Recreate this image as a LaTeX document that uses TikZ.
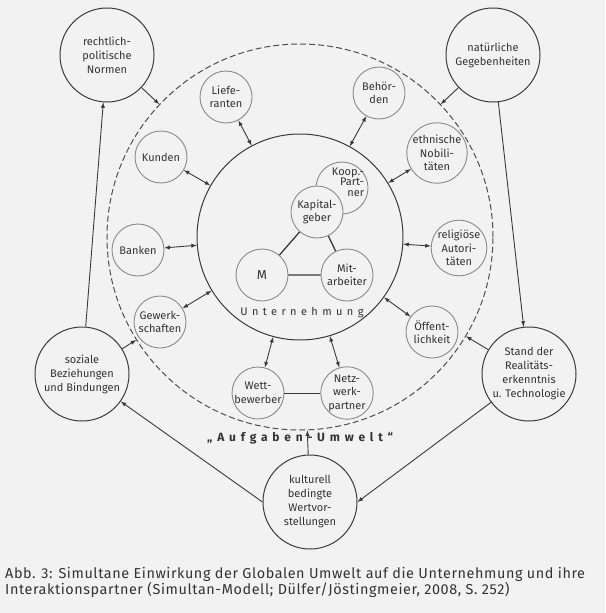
\documentclass[tikz,border=0pt]{standalone}
\usepackage{fontspec}
\setmainfont{Fira Sans}
\newfontfamily\sperrfont[LetterSpace=40]{Fira Sans}
\newfontfamily\captfont[LetterSpace=4]{Fira Sans}
\usetikzlibrary{arrows,calc}

\definecolor{hgrund}{HTML}{F2F2F2}
\definecolor{linie}{HTML}{3A3A3A}
\definecolor{schrift}{HTML}{333333}
\definecolor{rand}{HTML}{8A8A8A}

\tikzset{
  gross/.style={circle,draw=linie,line width=1pt,fill=hgrund,minimum size=94pt,
    inner sep=0pt,align=center,text=schrift,font=\fontsize{11}{14}\selectfont},
  klein/.style={circle,draw=rand,line width=0.9pt,fill=hgrund,minimum size=52pt,
    inner sep=0pt,align=center,text=schrift,font=\fontsize{11}{13.5}\selectfont},
  pfeil/.style={draw=linie,line width=0.9pt,>=latex}
}

\begin{document}
\begin{tikzpicture}[x=1pt,y=-1pt]
		\fill[hgrund] (0,0) rectangle (605,613);
		\useasboundingbox (0,0) rectangle (605,613);
		% Aufgaben-Umwelt und Unternehmung
		\node[circle,draw=linie!90,dash pattern=on 6pt off 3pt,line width=1pt,minimum size=386pt,inner sep=0pt] (aufg) at (300,237) {};
		\node[circle,draw=linie,line width=1pt,minimum size=206pt,inner sep=0pt] (unt) at (300,237) {};
		\node[text=schrift,font=\sperrfont\fontsize{11}{13}\selectfont] (unttxt) at (302,313) {Unternehmung};
		\node[text=schrift,font=\sperrfont\bfseries\fontsize{12}{14}\selectfont] (umwelt) at (300,438) {„Aufgaben-Umwelt“};
		% innen
		\node[klein,label={[align=right,text=schrift,font=\fontsize{11}{10.5}\selectfont,shift={(6,-6)}]center:Koop.-\\Part-\\ner}] (koop) at (342,188) {};
		\node[klein] (kap) at (317,212) {Kapital-\\geber};
		\node[klein,font=\fontsize{13}{15}\selectfont] (m) at (262,275) {M};
		\node[klein] (mit) at (347,275) {Mit-\\arbeiter};
		\draw[pfeil,line width=1.3pt] (m) -- (kap) -- (mit) -- (m);
		% Ring
		\foreach \n/\px/\py/\t in {lief/226/97/{Liefe-\\ranten},kund/161/157/Kunden,
				bank/138/250/Banken,gew/160/322/{Gewerk-\\schaften},wett/258/393/{Wett-\\bewerber},
				netz/347/393/{Netz-\\werk-\\partner},oeff/432/332/{Öffent-\\lichkeit},
				rel/459/248/{religiöse\\Autori-\\täten},eth/437/153/{ethnische\\Nobili-\\täten},
				beh/379/93/{Behör-\\den}}{
			\node[klein] (\n) at (\px,\py) {\t};
			\draw[pfeil,<->] (\n) -- (unt);
		}
		\draw[pfeil] (wett) -- (netz);
		% globale Umwelt
		\node[gross] (recht) at (107,55) {rechtlich-\\politische\\Normen};
		\node[gross] (nat) at (493,55) {natürliche\\Gegebenheiten};
		\node[gross] (soz) at (82,374) {soziale\\Beziehungen\\und Bindungen};
		\node[gross] (stand) at (529,374) {Stand der\\Realitäts-\\erkenntnis\\u. Technologie};
		\node[gross] (kult) at (310,502) {kulturell\\bedingte\\Wertvor-\\stellungen};
		\draw[pfeil,->] (soz) -- (recht);
		\draw[pfeil,->] (nat) -- (stand);
		\draw[pfeil,->] (stand) -- (kult.east);
		\draw[pfeil,->] (kult.west) -- (soz);
		\foreach \n in {recht,nat,soz,stand,kult}
			\draw[pfeil,->] (\n) -- (aufg);
		\node[anchor=north west,align=left,inner sep=0pt,text=schrift,font=\captfont\fontsize{14.4}{16.5}\selectfont] (caption) at (5,567)
			{Abb. 3: Simultane Einwirkung der Globalen Umwelt auf die Unternehmung und ihre\\Interaktionspartner (Simultan-Modell; Dülfer/Jöstingmeier, 2008, S. 252)};
\end{tikzpicture}
\end{document}
